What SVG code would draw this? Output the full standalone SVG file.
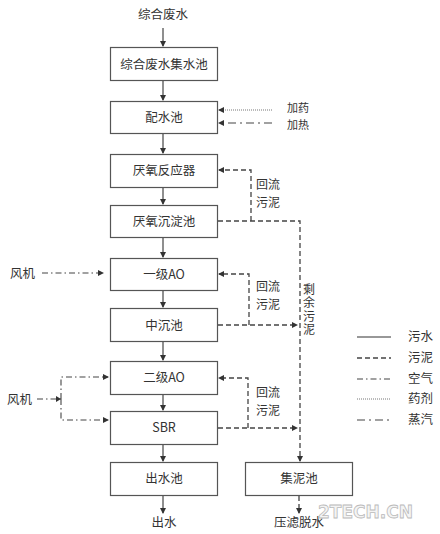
<svg xmlns="http://www.w3.org/2000/svg" width="440" height="534" viewBox="0 0 440 534">
<style>
.box{fill:#fff;stroke:#555;stroke-width:1.2}
text{font-family:"Noto Sans CJK SC","Noto Sans",sans-serif;font-size:12.5px;fill:#333}
.c{text-anchor:middle}
.sm{font-size:11px}
.r{font-size:12px}
.w{fill:none;stroke:#333;stroke-width:1.1}
.s{fill:none;stroke:#444;stroke-width:1.3;stroke-dasharray:5,3}
.a{fill:none;stroke:#444;stroke-width:1.1;stroke-dasharray:6,3,1.5,3}
.d{fill:none;stroke:#777;stroke-width:1;stroke-dasharray:1,1}
.v{fill:none;stroke:#444;stroke-width:1.1;stroke-dasharray:8,4,2,4}
</style>
<defs>
<marker id="ar" markerWidth="6" markerHeight="6" refX="5" refY="3" orient="auto" markerUnits="userSpaceOnUse">
<path d="M0,0 L6,3 L0,6 z" fill="#333"/>
</marker>
</defs>
<text class="c" x="163" y="19">综合废水</text>
<g id="n1"><rect class="box" x="110.5" y="47.5" width="107" height="33"/><text class="c" x="164" y="69">综合废水集水池</text></g>
<g id="n2"><rect class="box" x="110.5" y="101.5" width="107" height="32"/><text class="c" x="164" y="122">配水池</text></g>
<g id="n3"><rect class="box" x="110.5" y="154.5" width="107" height="33"/><text class="c" x="164" y="175">厌氧反应器</text></g>
<g id="n4"><rect class="box" x="110.5" y="205.5" width="107" height="32"/><text class="c" x="164" y="226">厌氧沉淀池</text></g>
<g id="n5"><rect class="box" x="110.5" y="258.5" width="107" height="32"/><text class="c" x="164" y="279">一级AO</text></g>
<g id="n6"><rect class="box" x="110.5" y="308.5" width="107" height="33"/><text class="c" x="164" y="330">中沉池</text></g>
<g id="n7"><rect class="box" x="110.5" y="361.5" width="107" height="33"/><text class="c" x="164" y="382">二级AO</text></g>
<g id="n8"><rect class="box" x="110.5" y="411.5" width="107" height="33"/><text class="c" x="164" y="432">SBR</text></g>
<g id="n9"><rect class="box" x="110.5" y="462.5" width="107" height="33"/><text class="c" x="164" y="483">出水池</text></g>
<g id="n10"><rect class="box" x="245.5" y="462.5" width="107" height="33"/><text class="c" x="299" y="483">集泥池</text></g>
<text class="c" x="164" y="527">出水</text>
<text class="c" x="299" y="527">压滤脱水</text>
<text class="sm" x="287" y="112">加药</text>
<text class="sm" x="287" y="129">加热</text>
<text class="r" x="256" y="189">回流</text>
<text class="r" x="256" y="207">污泥</text>
<text class="r" x="256" y="291">回流</text>
<text class="r" x="256" y="309">污泥</text>
<text class="r" x="256" y="397">回流</text>
<text class="r" x="256" y="415">污泥</text>
<text x="309" y="283" style="writing-mode:vertical-rl;font-size:12px;letter-spacing:1.5px">剩余污泥</text>
<text x="10" y="278">风机</text>
<text x="7" y="404">风机</text>
<g id="connectors">
<path class="w" d="M163,28 V46" marker-end="url(#ar)"/>
<path class="w" d="M163,81 V100" marker-end="url(#ar)"/>
<path class="w" d="M163,134 V153" marker-end="url(#ar)"/>
<path class="w" d="M163,188 V204" marker-end="url(#ar)"/>
<path class="w" d="M163,238 V257" marker-end="url(#ar)"/>
<path class="w" d="M163,291 V307" marker-end="url(#ar)"/>
<path class="w" d="M163,342 V360" marker-end="url(#ar)"/>
<path class="w" d="M163,395 V410" marker-end="url(#ar)"/>
<path class="w" d="M163,445 V461" marker-end="url(#ar)"/>
<path class="w" d="M163,496 V513" marker-end="url(#ar)"/>
<path class="d" d="M272,110 H219" marker-end="url(#ar)"/>
<path class="v" d="M272,123 H219" marker-end="url(#ar)"/>
<path class="s" d="M218,221 H300 V461" marker-end="url(#ar)"/>
<path class="s" d="M251,221 V170 H219" marker-end="url(#ar)"/>
<path class="s" d="M218,325 H297" marker-end="url(#ar)"/>
<path class="s" d="M249,325 V274 H219" marker-end="url(#ar)"/>
<path class="s" d="M218,428 H297" marker-end="url(#ar)"/>
<path class="s" d="M248,428 V378 H219" marker-end="url(#ar)"/>
<path class="s" d="M299,496 V513" marker-end="url(#ar)"/>
<path class="a" d="M42,273 H103" marker-end="url(#ar)"/>
<path class="a" d="M37,399 H61"/>
<path d="M56,396 L61,399 L56,402 z" fill="#333"/>
<path class="a" d="M61,399 V377 H108" marker-end="url(#ar)"/>
<path class="a" d="M61,399 V420 H108" marker-end="url(#ar)"/>
</g>
<g id="legend">
<path class="w" d="M357,337 H391"/>
<path class="s" d="M357,358 H391"/>
<path class="a" d="M357,379 H391"/>
<path class="d" d="M357,399 H391"/>
<path class="v" d="M357,420 H391"/>
<text x="408" y="341">污水</text>
<text x="408" y="362">污泥</text>
<text x="408" y="383">空气</text>
<text x="408" y="403">药剂</text>
<text x="408" y="424">蒸汽</text>
</g>
<text x="318" y="518" style="font-family:'DejaVu Sans',sans-serif;font-size:17px;font-weight:bold;fill:#f4f4f4;stroke:#bbb;stroke-width:0.8">2TECH.CN</text>
</svg>
